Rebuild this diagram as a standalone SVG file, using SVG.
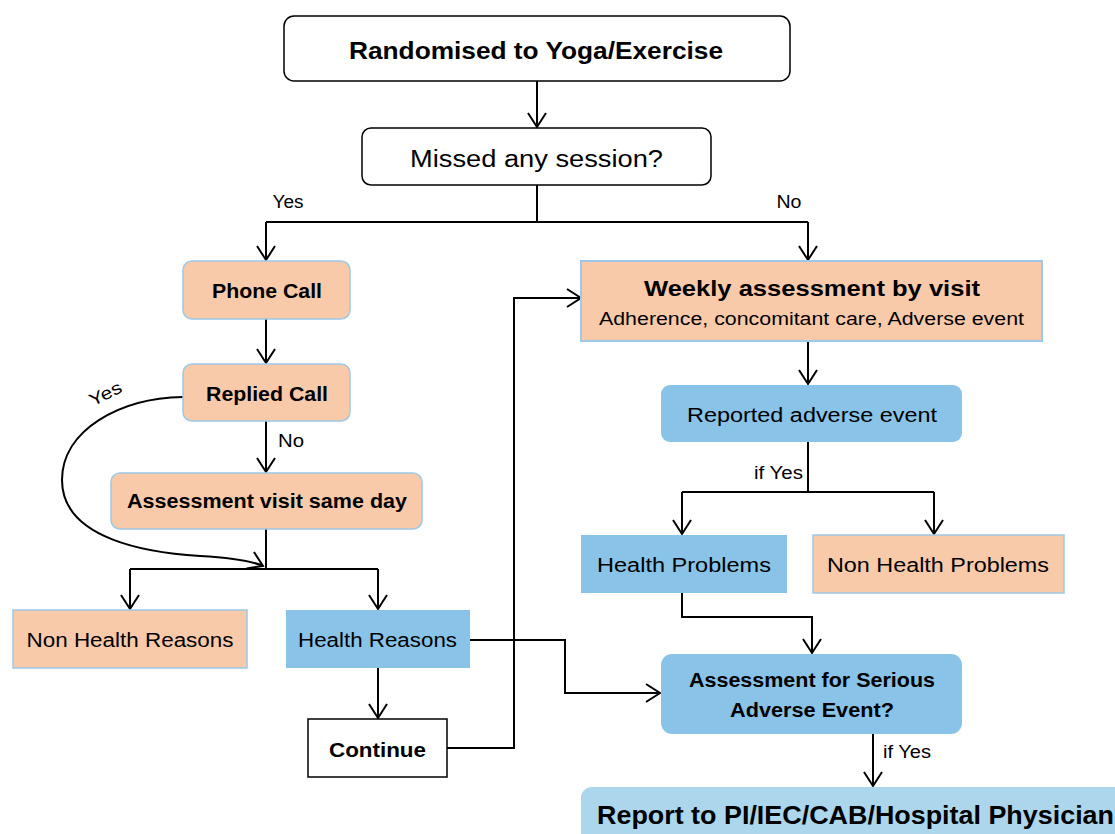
<svg xmlns="http://www.w3.org/2000/svg" width="1115" height="834" viewBox="0 0 1115 834">
<style>
text{font-family:"Liberation Sans",Arial,sans-serif;fill:#000}
.b{font-weight:bold}
.c{text-anchor:middle}
.peach{fill:#F9CAA9;stroke:#9DC8E8;stroke-width:1.5}
.blue{fill:#89C3E7}
.white{fill:#fff;stroke:#000;stroke-width:1.5}
.ln{fill:none;stroke:#000;stroke-width:2}
</style>
<defs>
<marker id="arr" markerUnits="userSpaceOnUse" markerWidth="24" markerHeight="24" viewBox="0 0 24 24" refX="15" refY="12" orient="auto">
<path d="M1,3 L15,12 L1,21" fill="none" stroke="#000" stroke-width="2"/>
</marker>
</defs>
<rect width="1115" height="834" fill="#fff"/>

<g id="connectors">
<path class="ln" d="M537,81 V127" marker-end="url(#arr)"/>
<path class="ln" d="M537,185 V222 M266,222 H808"/>
<path class="ln" d="M266,222 V260" marker-end="url(#arr)"/>
<path class="ln" d="M808,222 V260" marker-end="url(#arr)"/>
<path class="ln" d="M266,319 V363" marker-end="url(#arr)"/>
<path class="ln" d="M266,421 V472" marker-end="url(#arr)"/>
<path class="ln" d="M266,529 V569 M130,569 H378"/>
<path class="ln" d="M130,569 V609" marker-end="url(#arr)"/>
<path class="ln" d="M378,569 V609" marker-end="url(#arr)"/>
<path class="ln" d="M378,668 V718" marker-end="url(#arr)"/>
<path class="ln" d="M447,748 H514 V298 H581" marker-end="url(#arr)"/>
<path class="ln" d="M470,640 H565 V693 H660" marker-end="url(#arr)"/>
<path class="ln" d="M808,341 V384" marker-end="url(#arr)"/>
<path class="ln" d="M808,442 V492 M682,492 H934"/>
<path class="ln" d="M682,492 V534" marker-end="url(#arr)"/>
<path class="ln" d="M934,492 V534" marker-end="url(#arr)"/>
<path class="ln" d="M682,593 V617 H812 V653" marker-end="url(#arr)"/>
<path class="ln" d="M873,734 V786" marker-end="url(#arr)"/>
<path class="ln" d="M183,397 C120,398 62,430 62,480 C62,540 150,553 200,556 C235,558 252,561 263,566" marker-end="url(#arr)"/>
<text x="288" y="208" class="c" font-size="17.5" textLength="31" lengthAdjust="spacingAndGlyphs">Yes</text>
<text x="789" y="208" class="c" font-size="17.5" textLength="25" lengthAdjust="spacingAndGlyphs">No</text>
<text x="278" y="447" font-size="17.5" textLength="26" lengthAdjust="spacingAndGlyphs">No</text>
<text x="0" y="0" class="c" font-size="17.5" textLength="34" lengthAdjust="spacingAndGlyphs" transform="translate(108,399) rotate(-26)">Yes</text>
<text x="754" y="479" font-size="17.5" textLength="49" lengthAdjust="spacingAndGlyphs">if Yes</text>
<text x="883" y="758" font-size="17.5" textLength="48" lengthAdjust="spacingAndGlyphs">if Yes</text>
</g>

<g id="randomised">
<rect x="284" y="16" width="506" height="65" rx="10" class="white"/>
<text x="536" y="59" class="b c" font-size="23" textLength="374" lengthAdjust="spacingAndGlyphs">Randomised to Yoga/Exercise</text>
</g>
<g id="missed">
<rect x="362" y="128" width="349" height="57" rx="9" class="white"/>
<text x="536.5" y="167" class="c" font-size="23" textLength="253" lengthAdjust="spacingAndGlyphs">Missed any session?</text>
</g>
<g id="phone-call">
<rect x="183" y="261" width="167" height="58" rx="9" class="peach"/>
<text x="267" y="298" class="b c" font-size="19.5" textLength="110" lengthAdjust="spacingAndGlyphs">Phone Call</text>
</g>
<g id="replied-call">
<rect x="183" y="364" width="167" height="57" rx="9" class="peach"/>
<text x="267" y="401" class="b c" font-size="19.5" textLength="122" lengthAdjust="spacingAndGlyphs">Replied Call</text>
</g>
<g id="assessment-visit">
<rect x="111" y="473" width="311" height="56" rx="9" class="peach"/>
<text x="267" y="508" class="b c" font-size="19.5" textLength="280" lengthAdjust="spacingAndGlyphs">Assessment visit same day</text>
</g>
<g id="non-health-reasons">
<rect x="13" y="610" width="234" height="58" class="peach"/>
<text x="130" y="647" class="c" font-size="19.5" textLength="207" lengthAdjust="spacingAndGlyphs">Non Health Reasons</text>
</g>
<g id="health-reasons">
<rect x="286" y="610" width="184" height="58" class="blue"/>
<text x="377.5" y="647" class="c" font-size="19.5" textLength="159" lengthAdjust="spacingAndGlyphs">Health Reasons</text>
</g>
<g id="continue">
<rect x="308" y="719" width="139" height="58" class="white"/>
<text x="377.5" y="757" class="b c" font-size="19.5" textLength="97" lengthAdjust="spacingAndGlyphs">Continue</text>
</g>
<g id="weekly">
<rect x="581" y="261" width="461" height="80" class="peach" style="stroke-width:2"/>
<text x="812" y="296" class="b c" font-size="22" textLength="336" lengthAdjust="spacingAndGlyphs">Weekly assessment by visit</text>
<text x="811.5" y="325" class="c" font-size="17.5" textLength="425" lengthAdjust="spacingAndGlyphs">Adherence, concomitant care, Adverse event</text>
</g>
<g id="reported">
<rect x="661" y="385" width="301" height="57" rx="9" class="blue"/>
<text x="812" y="422" class="c" font-size="19.5" textLength="250" lengthAdjust="spacingAndGlyphs">Reported adverse event</text>
</g>
<g id="health-problems">
<rect x="581" y="535" width="206" height="58" class="blue"/>
<text x="684" y="572" class="c" font-size="19.5" textLength="174" lengthAdjust="spacingAndGlyphs">Health Problems</text>
</g>
<g id="non-health-problems">
<rect x="813" y="535" width="251" height="58" class="peach"/>
<text x="938" y="572" class="c" font-size="19.5" textLength="222" lengthAdjust="spacingAndGlyphs">Non Health Problems</text>
</g>
<g id="serious">
<rect x="661" y="654" width="301" height="80" rx="11" class="blue"/>
<text x="812" y="687" class="b c" font-size="19.5" textLength="246" lengthAdjust="spacingAndGlyphs">Assessment for Serious</text>
<text x="812" y="717" class="b c" font-size="19.5" textLength="164" lengthAdjust="spacingAndGlyphs">Adverse Event?</text>
</g>
<g id="report">
<rect x="581" y="787" width="570" height="80" rx="11" fill="#ABD6EC"/>
<text x="597" y="824" class="b" font-size="25" textLength="517" lengthAdjust="spacingAndGlyphs">Report to PI/IEC/CAB/Hospital Physician</text>
</g>
</svg>
